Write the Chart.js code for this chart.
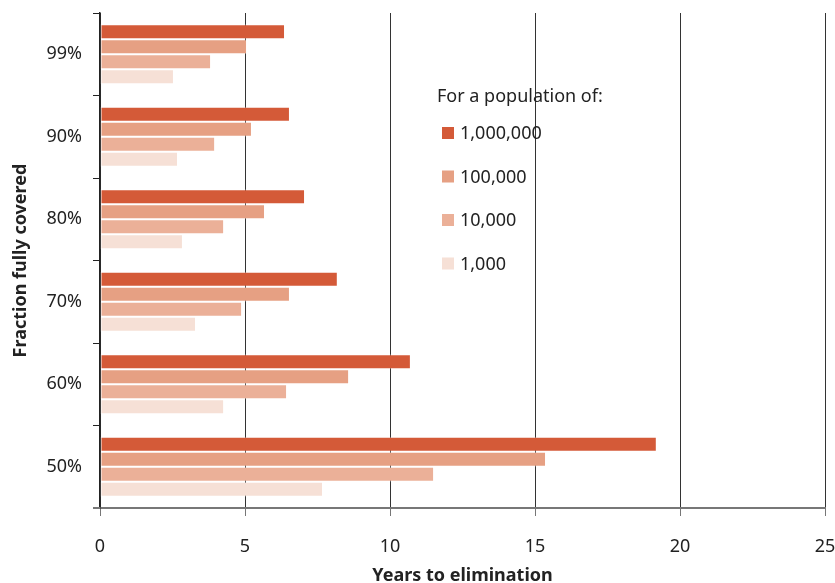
<!DOCTYPE html>
<html>
<head>
<meta charset="utf-8">
<script src="https://cdn.jsdelivr.net/npm/chart.js@4.4.0/dist/chart.umd.min.js"></script>
<style>
  html, body { margin: 0; padding: 0; background: #fff; }
  #wrap { width: 835px; height: 583px; position: relative; }
</style>
</head>
<body>
<div id="wrap"><canvas id="chart"></canvas></div>
<script>
// ---------------- DATA ----------------
const coverage = ['99%', '90%', '80%', '70%', '60%', '50%'];
const populations = ['1,000,000', '100,000', '10,000', '1,000'];
const popColors = ['#d45a38', '#e6a083', '#ebb098', '#f6e0d6'];

const years1M   = [6.38, 6.55, 7.07, 8.2, 10.72, 19.2];
const years100k = [5.07, 5.24, 5.69, 6.55, 8.59, 15.38];
const years10k  = [3.83, 3.97, 4.28, 4.9, 6.45, 11.52];
const years1k   = [2.55, 2.69, 2.86, 3.31, 4.28, 7.69];

const xTicks = [0, 5, 10, 15, 20, 25];

const FONT = '"Noto Sans", "Open Sans", sans-serif';
const seriesValues = [years1M, years100k, years10k, years1k];

// legend ditaruh di dalam area chart
const insideLegend = {
    id: 'insideLegend',
    afterDraw(chart) {
        const ctx = chart.ctx;
        ctx.save();
        ctx.font = '18px ' + FONT;
        ctx.fillStyle = '#222';
        ctx.textBaseline = 'middle';
        ctx.fillText('For a population of:', 437, 97);
        chart.data.datasets.forEach((ds, i) => {
            const y = 133 + i * 43.5;
            ctx.fillStyle = ds.backgroundColor;
            ctx.fillRect(442, y - 6, 12, 12);
            ctx.fillStyle = '#222';
            ctx.fillText(ds.label, 460, y + 1);
        });
        ctx.restore();
    }
};

// garis sumbu x sedikit menjorok ke kiri seperti aslinya
const axisStub = {
    id: 'axisStub',
    afterDraw(chart) {
        const ctx = chart.ctx;
        const a = chart.chartArea;
        ctx.save();
        ctx.strokeStyle = '#777';
        ctx.lineWidth = 2;
        ctx.beginPath();
        ctx.moveTo(a.left - 7, a.bottom);
        ctx.lineTo(a.left, a.bottom);
        ctx.stroke();
        ctx.restore();
    }
};

new Chart(document.getElementById('chart'), {
    type: 'bar',
    data: {
        labels: coverage,
        datasets: populations.map((p, i) => ({
            label: p,
            data: seriesValues[i],
            backgroundColor: popColors[i],
            borderColor: 'rgba(255,255,255,0.35)',
            borderWidth: 1,
            borderSkipped: false,
            barPercentage: 1,
            categoryPercentage: 0.73
        }))
    },
    options: {
        indexAxis: 'y',
        responsive: true,
        maintainAspectRatio: false,
        animation: false,
        layout: { padding: { top: 13, right: 10, left: 0, bottom: 0 } },
        plugins: {
            legend: { display: false },
            tooltip: { enabled: false }
        },
        scales: {
            x: {
                min: 0,
                max: 25,
                afterBuildTicks: scale => { scale.ticks = xTicks.map(v => ({ value: v })); },
                afterFit: scale => {
                    scale.height = 75;
                    scale.paddingLeft = 0;
                    scale.paddingRight = 0;
                },
                grid: {
                    color: '#333',
                    lineWidth: 1,
                    drawTicks: true,
                    tickLength: 8,
                    tickColor: '#777'
                },
                border: { color: '#777', width: 2 },
                ticks: {
                    color: '#222',
                    font: { family: FONT, size: 18 },
                    padding: 20,
                    maxRotation: 0
                },
                title: {
                    display: true,
                    text: 'Years to elimination',
                    color: '#222',
                    font: { family: FONT, size: 18, weight: 'bold' },
                    padding: { top: 6, bottom: -4 }
                }
            },
            y: {
                afterFit: scale => {
                    scale.width = 100;
                    scale.paddingTop = 0;
                    scale.paddingBottom = 0;
                },
                grid: {
                    drawOnChartArea: false,
                    drawTicks: true,
                    tickLength: 7,
                    tickColor: '#222',
                    offset: true
                },
                border: { color: '#222', width: 1.5 },
                ticks: {
                    color: '#222',
                    font: { family: FONT, size: 18 },
                    padding: 11
                },
                title: {
                    display: true,
                    text: 'Fraction fully covered',
                    color: '#222',
                    font: { family: FONT, size: 18, weight: 'bold' },
                    padding: { top: 10, bottom: 8 }
                }
            }
        }
    },
    plugins: [insideLegend, axisStub]
});
</script>
</body>
</html>
